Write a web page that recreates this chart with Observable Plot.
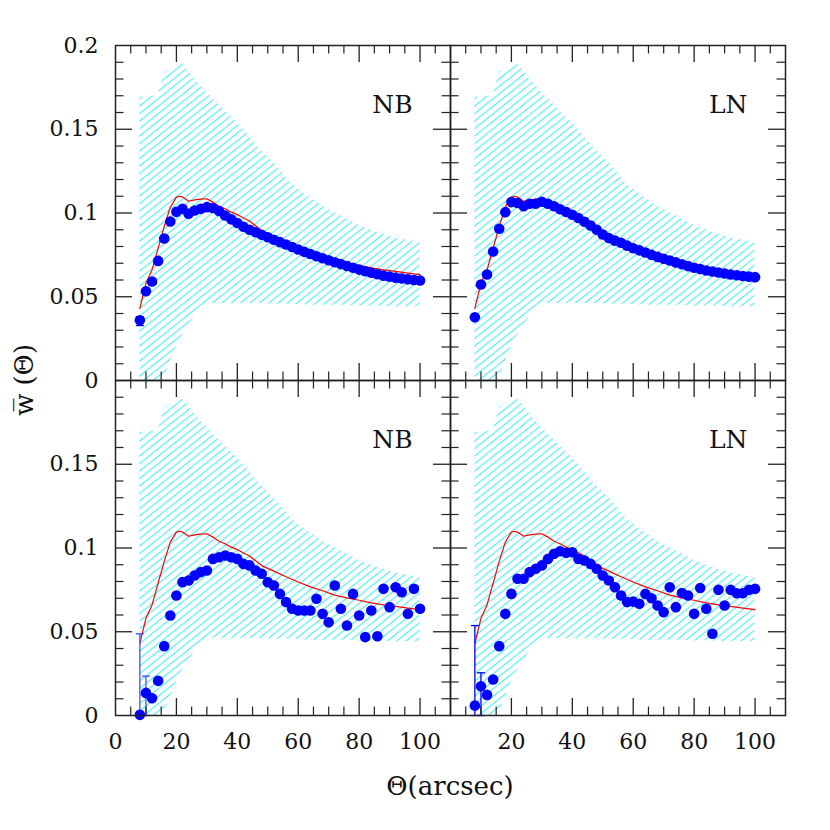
<!DOCTYPE html>
<html><head><meta charset="utf-8">
<script src="https://cdn.jsdelivr.net/npm/d3@7"></script>
<script src="https://cdn.jsdelivr.net/npm/@observablehq/plot@0.6"></script>
<style>body{margin:0;background:#fff}</style>
</head><body><div id="chart"></div>
<script>
// ---- data ----
const columns = ["NB", "LN"];
const rows = ["top", "bottom"];
const theta = [8,10,12,14,16,18,20,22,24,26,28,30,32,34,36,38,40,42,44,46,48,50,52,54,56,58,60,62,64,66,68,70,72,74,76,78,80,82,84,86,88,90,92,94,96,98,100];
const nbTop = [0.036,0.0533,0.0591,0.0714,0.0848,0.0949,0.1007,0.1025,0.0995,0.1015,0.1025,0.1035,0.1030,0.1012,0.0985,0.0962,0.0940,0.0918,0.0900,0.0885,0.0870,0.0855,0.0840,0.0826,0.0812,0.0797,0.0782,0.0768,0.0755,0.0742,0.0730,0.0718,0.0706,0.0695,0.0684,0.0673,0.0662,0.0652,0.0643,0.0634,0.0626,0.0620,0.0614,0.0609,0.0604,0.0600,0.0597];
const lnTop = [0.0378,0.0573,0.0633,0.0770,0.0906,0.1005,0.1065,0.1060,0.1040,0.1055,0.1055,0.1067,0.1055,0.1040,0.1022,0.1006,0.0990,0.0970,0.0948,0.0925,0.0900,0.0872,0.0850,0.0835,0.0822,0.0805,0.0790,0.0777,0.0764,0.0750,0.0738,0.0727,0.0716,0.0705,0.0694,0.0683,0.0673,0.0665,0.0657,0.0651,0.0645,0.0639,0.0633,0.0628,0.0624,0.0620,0.0617];
const nbBottom = [0.0004,0.0135,0.0103,0.0207,0.0414,0.0597,0.0716,0.0796,0.0806,0.0836,0.0856,0.0866,0.0935,0.0945,0.0955,0.0945,0.0935,0.0905,0.0896,0.0866,0.0846,0.0796,0.0776,0.0726,0.0677,0.0637,0.0627,0.0627,0.0627,0.0697,0.0607,0.0557,0.0776,0.0637,0.0537,0.0726,0.0597,0.0468,0.0627,0.0473,0.0756,0.0647,0.0766,0.0736,0.0607,0.0756,0.0637];
const lnBottom = [0.006,0.0175,0.0123,0.0215,0.0414,0.0607,0.0726,0.0816,0.0816,0.0856,0.0876,0.0896,0.0935,0.0965,0.0981,0.0971,0.0975,0.0935,0.0925,0.0905,0.0876,0.0836,0.0806,0.0766,0.0716,0.0677,0.0680,0.0667,0.0726,0.0700,0.0657,0.0617,0.0766,0.0647,0.0731,0.0716,0.0607,0.0761,0.0637,0.0488,0.0750,0.0657,0.0750,0.0730,0.0730,0.0750,0.0756];

const modelTheta = [8,10,12,14,16,18,20,21,22,24,26,28,30,32,34,36,38,40,44,48,52,56,60,64,68,72,76,80,84,88,92,96,100];
const modelW = [0.043,0.058,0.066,0.079,0.092,0.1035,0.1095,0.110,0.1095,0.107,0.1078,0.1083,0.1085,0.1065,0.104,0.1025,0.1005,0.099,0.0952,0.0895,0.0862,0.0828,0.0797,0.0768,0.0745,0.0719,0.0702,0.0688,0.0672,0.0660,0.0651,0.0641,0.0632];

const bandTheta = [8,14,16,20,22,24,26,28,31,36,42,47,53,58,64,69,75,80,86,91,96,100];
const bandUpper = [0.169,0.170,0.184,0.188,0.189,0.185,0.180,0.176,0.170,0.161,0.150,0.139,0.128,0.117,0.109,0.103,0.0975,0.0925,0.0885,0.0856,0.0836,0.0826];
const bandLower = [0,0,0.002,0.020,0.027,0.033,0.038,0.042,0.046,0.046,0.046,0.046,0.0455,0.0455,0.045,0.045,0.045,0.0445,0.0445,0.044,0.044,0.044];

const errThetaNBTop = [8],  errLowNBTop = [0.0328], errHighNBTop = [0.0380];
const errThetaNB = [8,10], errLowNB = [0,0], errHighNB = [0.0488,0.0235];
const errThetaLN = [8,10], errLowLN = [0,0], errHighLN = [0.0537,0.0255];

const xMinorTicks = [5,10,15,25,30,35,45,50,55,65,70,75,85,90,95,105];
const xMajorTicks = [20,40,60,80,100];
const yMinorTicks = [0.01,0.02,0.03,0.04,0.06,0.07,0.08,0.09,0.11,0.12,0.13,0.14,0.16,0.17,0.18,0.19];
const yMajorTicks = [0.05,0.1,0.15];
const xTickLabels = [0,20,40,60,80,100];
const yTickLabels = [0,0.05,0.1,0.15,0.2];

// ---- tables built from the arrays ----
const series = {NB: {top: nbTop, bottom: nbBottom}, LN: {top: lnTop, bottom: lnBottom}};
const points = [];
for (const c of columns) for (const r of rows)
  theta.forEach((t, i) => points.push({fx: c, fy: r, x: t, y: series[c][r][i]}));
const model = modelTheta.map((t, i) => ({x: t, y: modelW[i]}));
const band = bandTheta.map((t, i) => ({x: t, lo: bandLower[i], hi: bandUpper[i]}));
const errs = [
  ...errThetaNBTop.map((t, i) => ({fx: "NB", fy: "top", x: t, lo: errLowNBTop[i], hi: errHighNBTop[i], c: "#0000ff"})),
  ...errThetaNB.map((t, i) => ({fx: "NB", fy: "bottom", x: t, lo: errLowNB[i], hi: errHighNB[i], c: "#4b4bff"})),
  ...errThetaLN.map((t, i) => ({fx: "LN", fy: "bottom", x: t, lo: errLowLN[i], hi: errHighLN[i], c: "#0000ff"}))
];
const xLabelData = [];
for (const c of columns) for (const v of xTickLabels) if (!(c === "LN" && v === 0)) xLabelData.push({fx: c, fy: "bottom", v});
const yLabelData = [];
for (const r of rows) for (const v of yTickLabels) if (!(r === "bottom" && v === 0.2)) yLabelData.push({fx: "NB", fy: r, v});
const panelLabels = [];
for (const c of columns) for (const r of rows) panelLabels.push({fx: c, fy: r, label: c});

// ---- layout ----
const W = 830, H = 830, mT = 45, mR = 45, mB = 115, mL = 115;
const P = (H - mT - mB) / 2; // panel size in px
const minorLen = 8.5, majorLen = 17;
const serif = "DejaVu Serif";
const tickColor = "#222";
const capSymbol = {draw(ctx) { ctx.moveTo(-4, 0); ctx.lineTo(4, 0); }};

const chart = Plot.plot({
  width: W, height: H,
  marginTop: mT, marginRight: mR, marginBottom: mB, marginLeft: mL,
  x: {domain: [0, 110], axis: null},
  y: {domain: [0, 0.2], axis: null},
  fx: {domain: columns, padding: 0, axis: null},
  fy: {domain: rows, padding: 0, axis: null},
  style: {background: "white", fontFamily: serif, color: "black"},
  marks: [
    Plot.areaY(band, {x: "x", y1: "lo", y2: "hi", fill: "url(#hatch)", curve: "linear"}),
    Plot.line(model, {x: "x", y: "y", stroke: "#ff0000", strokeWidth: 1.2}),
    Plot.ruleX(errs, {x: "x", y1: "lo", y2: "hi", fx: "fx", fy: "fy", stroke: "c", strokeWidth: 1.3}),
    Plot.dot(errs, {x: "x", y: "lo", fx: "fx", fy: "fy", symbol: capSymbol, stroke: "c", fill: "none", strokeWidth: 1.3}),
    Plot.dot(errs, {x: "x", y: "hi", fx: "fx", fy: "fy", symbol: capSymbol, stroke: "c", fill: "none", strokeWidth: 1.3}),
    Plot.dot(points, {x: "x", y: "y", fx: "fx", fy: "fy", r: 5.3, fill: "#0000ff", stroke: "none"}),
    Plot.frame({stroke: tickColor, strokeWidth: 1.5}),
    // inward ticks on all four sides of every panel
    Plot.ruleX(xMinorTicks, {insetTop: P - minorLen, stroke: tickColor, strokeWidth: 1.2}),
    Plot.ruleX(xMinorTicks, {insetBottom: P - minorLen, stroke: tickColor, strokeWidth: 1.2}),
    Plot.ruleX(xMajorTicks, {insetTop: P - majorLen, stroke: tickColor, strokeWidth: 1.3}),
    Plot.ruleX(xMajorTicks, {insetBottom: P - majorLen, stroke: tickColor, strokeWidth: 1.3}),
    Plot.ruleY(yMinorTicks, {insetRight: P - minorLen, stroke: tickColor, strokeWidth: 1.2}),
    Plot.ruleY(yMinorTicks, {insetLeft: P - minorLen, stroke: tickColor, strokeWidth: 1.2}),
    Plot.ruleY(yMajorTicks, {insetRight: P - majorLen, stroke: tickColor, strokeWidth: 1.3}),
    Plot.ruleY(yMajorTicks, {insetLeft: P - majorLen, stroke: tickColor, strokeWidth: 1.3}),
    // tick labels
    Plot.text(xLabelData, {x: "v", fx: "fx", fy: "fy", text: d => String(d.v), frameAnchor: "bottom", dy: 26, lineAnchor: "middle", fontSize: 22, fontFamily: serif, fill: "#111"}),
    Plot.text(yLabelData, {y: "v", fx: "fx", fy: "fy", text: d => String(d.v), frameAnchor: "left", textAnchor: "end", dx: -17, lineAnchor: "middle", fontSize: 22, fontFamily: serif, fill: "#111"}),
    // panel labels
    Plot.text(panelLabels, {fx: "fx", fy: "fy", text: "label", frameAnchor: "top-right", textAnchor: "end", lineAnchor: "middle", dx: -38, dy: 59, fontSize: 25, fontFamily: serif, fill: "#111"})
  ]
});

const svg = d3.select(chart);
svg.insert("defs", ":first-child").html(
  '<pattern id="hatch" patternUnits="userSpaceOnUse" width="9.4" height="7.5">' +
  '<path d="M0,7.5L9.4,0M-4.7,3.75L4.7,-3.75M4.7,11.25L14.1,3.75" stroke="#3ae6f0" stroke-width="0.95" fill="none"/></pattern>'
);
svg.append("text")
  .attr("x", (mL + W - mR) / 2).attr("y", H - 44)
  .attr("text-anchor", "middle").attr("dy", "0.35em")
  .attr("font-family", serif).attr("font-size", 26).attr("fill", "#111")
  .text("Θ(arcsec)");
svg.append("text")
  .attr("transform", `translate(24,${(mT + H - mB) / 2}) rotate(-90)`)
  .attr("text-anchor", "middle").attr("dy", "0.35em")
  .attr("font-family", serif).attr("font-size", 26).attr("fill", "#111")
  .text("w\u0305 (Θ)");
document.getElementById("chart").appendChild(chart);
</script>
</body></html>
